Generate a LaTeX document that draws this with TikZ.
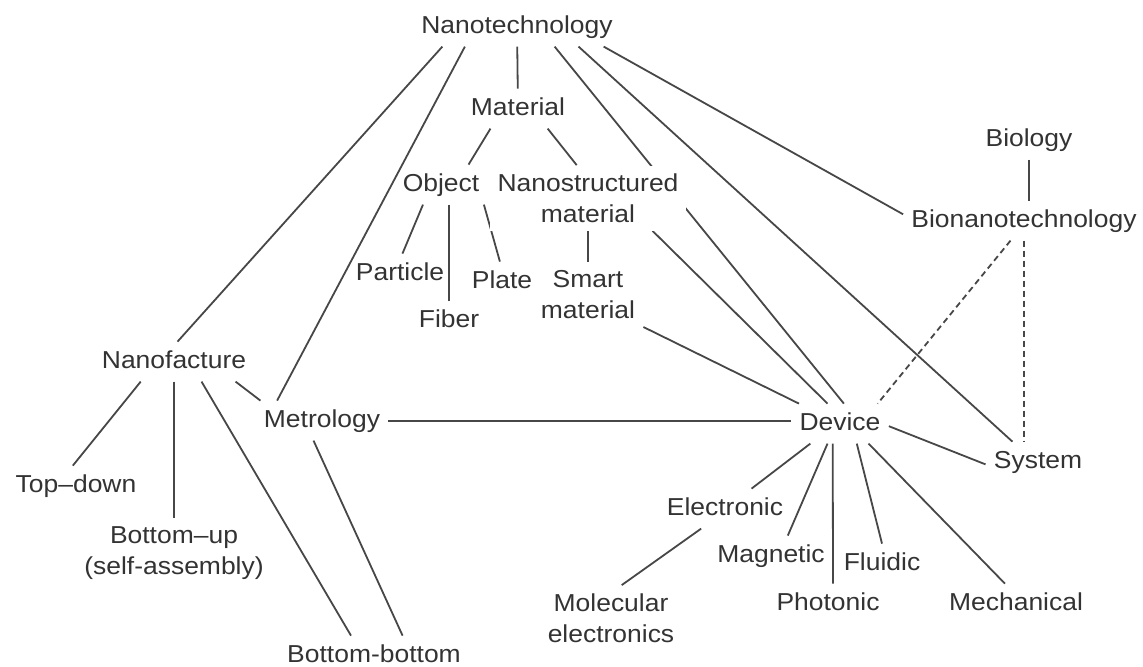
\documentclass[tikz,border=0pt]{standalone}
\usepackage{fontspec}
\setmainfont{Liberation Sans}[FakeStretch=1.08]
\usetikzlibrary{backgrounds}

\begin{document}
\begin{tikzpicture}[
  x=0.5pt, y=-0.5pt,
  font=\fontsize{12.25}{15.5}\selectfont,
  term/.style={inner sep=4pt,text=black!80,text height=9pt,text depth=2.6pt},
  term2/.style={inner sep=4pt,text=black!80,align=center},
  link/.style={draw=black!72,line width=0.9pt},
  weak/.style={link,dash pattern=on 3pt off 2pt}
]
  \useasboundingbox (0,0) rectangle (1143,666);

  \node[term] (nt) at (517,26.6) {Nanotechnology};
  \node[term] (mat) at (518,108.6) {Material};
  \node[term] (obj) at (441,184.6) {Object};
  \node[term2,fill=white] (nsm) at (588,198) {Nanostructured\\material};
  \node[term] (part) at (400,273.6) {Particle};
  \node[term] (fib) at (449,320.6) {Fiber};
  \node[term] (plate) at (502,281.6) {Plate};
  \node[term2] (smart) at (588,295) {Smart\\material};
  \node[term] (bio) at (1029,139.6) {Biology};
  \node[term] (bnt) at (1024,220.6) {Bionanotechnology};

  \node[term] (nfac) at (174,361.6) {Nanofacture};
  \node[term] (met) at (322,420.6) {Metrology};
  \node[term] (dev) at (840,423.6) {Device};
  \node[term] (sys) at (1038,461.6) {System};
  \node[term] (td) at (76,485.6) {Top--down};
  \node[term2] (bu) at (174,552.6) {Bottom--up\\(self-assembly)};
  \node[term] (bb) at (374,655.6) {Bottom-bottom};

  \node[term] (elec) at (725,508.6) {Electronic};
  \node[term] (mag) at (771,555.6) {Magnetic};
  \node[term] (phot) at (828,603.6) {Photonic};
  \node[term] (flu) at (882,563.6) {Fluidic};
  \node[term] (mech) at (1016,603.6) {Mechanical};
  \node[term2] (mol) at (611,618) {Molecular\\electronics};

  \begin{pgfonlayer}{background}
    % top level
    \draw[link] (nt.195) -- (nfac.80);
    \draw[link] (nt.201) -- (met.156);
    \draw[link] (nt) -- (mat);
    \draw[link] (nt.-28) -- (dev.79);
    \draw[link] (nt.-18) -- (sys.142);
    \draw[link] (nt.-13) -- (bnt.177);
    % materials
    \draw[link] (mat.216) -- (obj.36);
    \draw[link] (mat.-34) -- (nsm.109);
    \draw[link] (obj.228) -- (part.83);
    \draw[link] (fib.north |- obj.south) -- (fib.north);
    \draw[link] (obj.-25) -- (plate.96);
    \draw[link] (nsm) -- (smart);
    \draw[link] (nsm.-27) -- (dev.122);
    \draw[link] (smart.-30) -- (dev.154);
    % biology
    \draw[link] (bio.south) -- (bio.south |- bnt.north);
    \draw[weak] (bnt.236) -- (dev.28);
    \draw[weak] (bnt.south) -- (bnt.south |- sys.north);
    % nanofacture
    \draw[link] (nfac.211) -- (td.99);
    \draw[link] (nfac) -- (bu);
    \draw[link] (nfac.-36) -- (bb.139);
    \draw[link] (nfac.-18) -- (met.162);
    \draw[link] (met.247) -- (bb.35);
    \draw[link] (met.east) -- (met.east -| dev.west);
    % devices
    \draw[link] (dev.-3) -- (sys.183);
    \draw[link] (dev.214) -- (elec.37);
    \draw[link] (dev.238) -- (mag.50);
    \draw[link] (dev.-110) -- (phot.76);
    \draw[link] (dev.-50) -- (flu.90);
    \draw[link] (dev.-35) -- (mech.119);
    \draw[link] (elec.220) -- (mol.72);
  \end{pgfonlayer}
\end{tikzpicture}
\end{document}
